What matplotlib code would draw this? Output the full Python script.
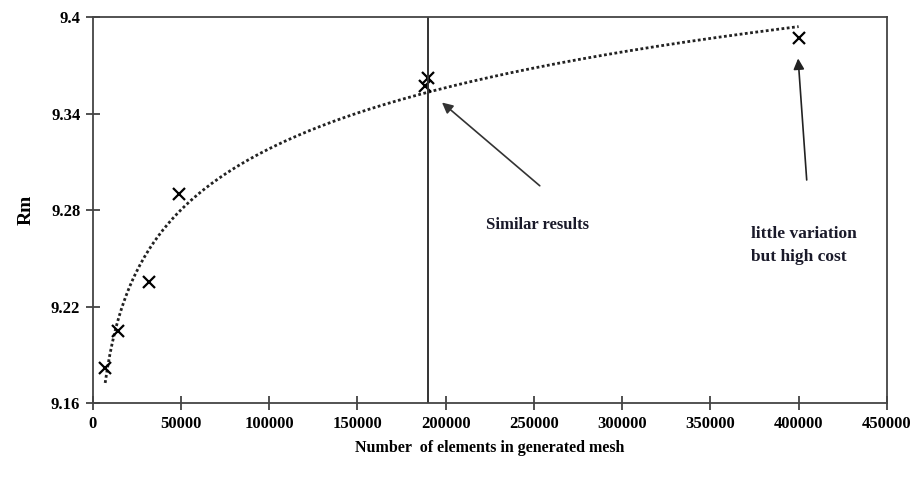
import matplotlib
matplotlib.use('Agg')
import numpy as np
import matplotlib.pyplot as plt

# ------------ Data ---------------
# mesh sizes (number of elements) and the resulting Rm
elements = [7000, 14000, 32000, 49000, 188000, 190000, 400000]
rm_values = [9.182, 9.205, 9.235, 9.290, 9.357, 9.362, 9.387]
refine_limit = 190000       # vertical marker line

x_ticks = [0, 50000, 100000, 150000, 200000, 250000, 300000, 350000, 400000, 450000]
y_ticks = [9.16, 9.22, 9.28, 9.34, 9.4]
y_tick_labels = ['9.16', '9.22', '9.28', '9.34', '9.4']

# ------------ Plot Setup ---------------
plt.rcParams['font.family'] = ['Liberation Serif', 'DejaVu Serif']
plt.rcParams['font.weight'] = 'bold'

fig = plt.figure(figsize=(9.19, 4.88), dpi=100)
ax = fig.add_axes([0.101, 0.174, 0.864, 0.791])

# logarithmic trend line (like the spreadsheet one), fitted to the points
b, a = np.polyfit(np.log(elements), rm_values, 1)
xt = np.linspace(elements[0], elements[-1], 300)
ax.plot(xt, a + b * np.log(xt), linestyle=(0, (1, 0.9)), color='#222222', lw=2)

ax.plot(elements, rm_values, 'x', color='black', ms=9, mew=1.6)
ax.axvline(refine_limit, color='#333333', lw=1.4)

# annotations
ax.annotate('', xy=(196700, 9.348), xytext=(254500, 9.294),
            arrowprops=dict(arrowstyle='-|>', color='#333333', lw=1.2,
                            mutation_scale=16))
ax.text(252000, 9.271, 'Similar results', ha='center', va='center',
        fontsize=12, fontweight='bold', color='#1a1a2a')
ax.annotate('', xy=(399600, 9.376), xytext=(404700, 9.297),
            arrowprops=dict(arrowstyle='-|>', color='#222222', lw=1.2,
                            mutation_scale=16))
ax.text(373000, 9.258, 'little variation\nbut high cost', ha='left', va='center',
        fontsize=12.5, fontweight='bold', color='#1a1a2a', linespacing=1.55)

# format axes
ax.set_xlim(0, 450000)
ax.set_ylim(9.16, 9.4)
ax.set_xticks(x_ticks)
ax.set_xticklabels([str(v) for v in x_ticks])
ax.set_yticks(y_ticks)
ax.set_yticklabels(y_tick_labels)
ax.tick_params(direction='inout', length=10, width=1.2, labelsize=12,
               color='#333333', pad=4)
for s in ax.spines.values():
    s.set_color('#444444')
    s.set_linewidth(1.3)

ax.set_ylabel('Rm', fontsize=14, fontweight='bold', labelpad=12)
ax.set_xlabel('Number  of elements in generated mesh', fontsize=11.5,
              fontweight='bold', labelpad=6)

fig.savefig('out.png', dpi=100)
